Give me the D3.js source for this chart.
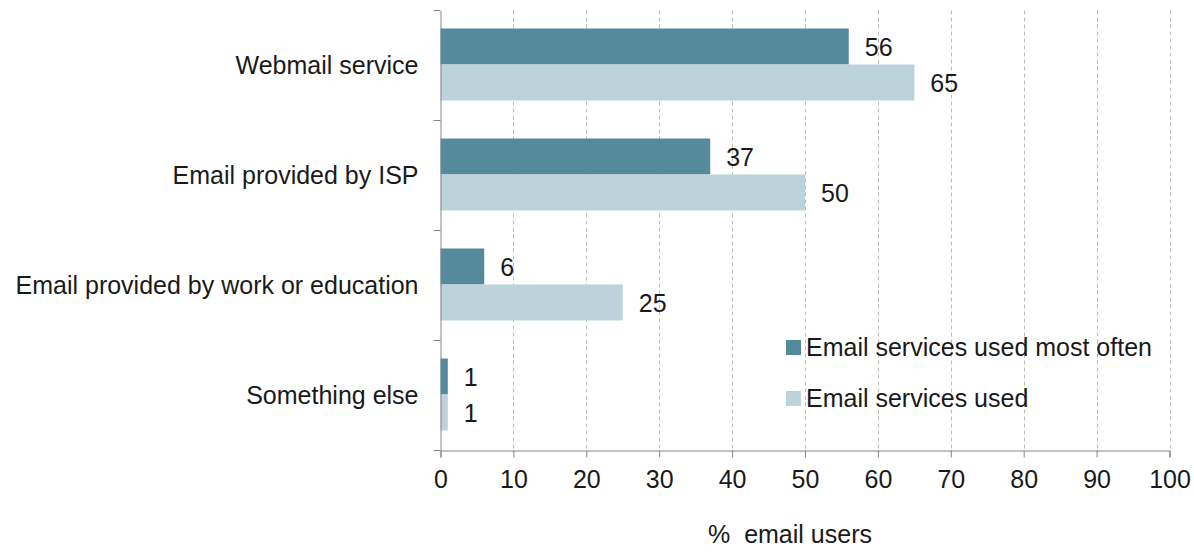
<!DOCTYPE html>
<html>
<head>
<meta charset="utf-8">
<script src="https://cdn.jsdelivr.net/npm/d3@7"></script>
<style>
  html, body { margin: 0; padding: 0; background: #fff; }
  svg { display: block; }
  text { font-family: "Liberation Sans", Arial, sans-serif; fill: #1a1a1a; }
  .num { font-family: "Liberation Sans Narrow", "Arial Narrow", "Liberation Sans", Arial, sans-serif; }
</style>
</head>
<body>
<svg id="chart" width="1194" height="552"></svg>
<script>
// Email service usage (% of email users)
const categories = ["Webmail service", "Email provided by ISP", "Email provided by work or education", "Something else"];
const mostOften = [56, 37, 6, 1];
const used = [65, 50, 25, 1];
const seriesNames = ["Email services used most often", "Email services used"];
const xTicks = [0, 10, 20, 30, 40, 50, 60, 70, 80, 90, 100];
const xTitle = "%  email users";

const colors = ["#558a9d", "#bdd3dc"];
const svg = d3.select("#chart");

const plotLeft = 440.5, plotRight = 1169.5, plotTop = 10.5, plotBottom = 450.5;

const x = d3.scaleLinear().domain([0, 100]).range([plotLeft, plotRight]);
const y = d3.scaleBand().domain(categories).range([plotTop, plotBottom]).paddingInner(0).paddingOuter(0);
const barH = 36;

// dashed vertical gridlines
svg.append("g").selectAll("line")
  .data(xTicks.filter(d => d > 0))
  .join("line")
  .attr("x1", d => Math.round(x(d)) + 0.5).attr("x2", d => Math.round(x(d)) + 0.5)
  .attr("y1", plotTop).attr("y2", plotBottom)
  .attr("stroke", "#bdbdbd").attr("stroke-width", 1).attr("stroke-dasharray", "4,3");

// bars
const groups = svg.append("g").selectAll("g")
  .data(categories)
  .join("g")
  .attr("transform", d => `translate(0,${y(d) + y.bandwidth() / 2})`);

[mostOften, used].forEach((vals, si) => {
  groups.append("rect")
    .attr("x", x(0))
    .attr("y", si === 0 ? -barH - 1 : -1)
    .attr("width", (d, i) => x(vals[i]) - x(0))
    .attr("height", barH)
    .attr("fill", colors[si]);
  groups.append("text")
    .attr("class", "num")
    .attr("x", (d, i) => x(vals[i]) + 16)
    .attr("y", si === 0 ? -barH / 2 - 1 : barH / 2 - 1)
    .attr("dy", "0.36em")
    .attr("font-size", 25)
    .text((d, i) => vals[i]);
});

// x axis
const xAxis = svg.append("g")
  .attr("transform", `translate(0,${plotBottom})`)
  .call(d3.axisBottom(x).tickValues(xTicks).tickSize(7).tickPadding(13));
xAxis.select(".domain").attr("stroke", "#868686");
xAxis.selectAll(".tick line").attr("stroke", "#868686");
xAxis.selectAll(".tick text")
  .attr("class", "num")
  .attr("font-size", 25)
  .attr("fill", "#1a1a1a");

// y axis
const yAxis = svg.append("g")
  .attr("transform", `translate(${plotLeft},0)`)
  .call(d3.axisLeft(y).tickSize(0).tickPadding(22));
yAxis.select(".domain").attr("stroke", "#868686");
yAxis.selectAll(".tick text")
  .attr("font-size", 25)
  .attr("fill", "#1a1a1a");
// tick marks at category boundaries
svg.append("g").selectAll("line")
  .data(d3.range(categories.length + 1))
  .join("line")
  .attr("x1", plotLeft - 7).attr("x2", plotLeft)
  .attr("y1", i => plotTop + i * y.step()).attr("y2", i => plotTop + i * y.step())
  .attr("stroke", "#868686");

// axis title
svg.append("text")
  .attr("x", 790).attr("y", 543)
  .attr("text-anchor", "middle")
  .attr("font-size", 25)
  .style("white-space", "pre")
  .attr("xml:space", "preserve")
  .text(xTitle);

// legend
const legend = svg.append("g").attr("transform", "translate(786,0)");
seriesNames.forEach((name, i) => {
  const cy = 347 + i * 51;
  legend.append("rect")
    .attr("x", 0).attr("y", cy - 7).attr("width", 15).attr("height", 15)
    .attr("fill", colors[i]);
  legend.append("text")
    .attr("x", 20).attr("y", cy).attr("dy", "0.36em")
    .attr("font-size", 25)
    .text(name);
});
</script>
</body>
</html>
